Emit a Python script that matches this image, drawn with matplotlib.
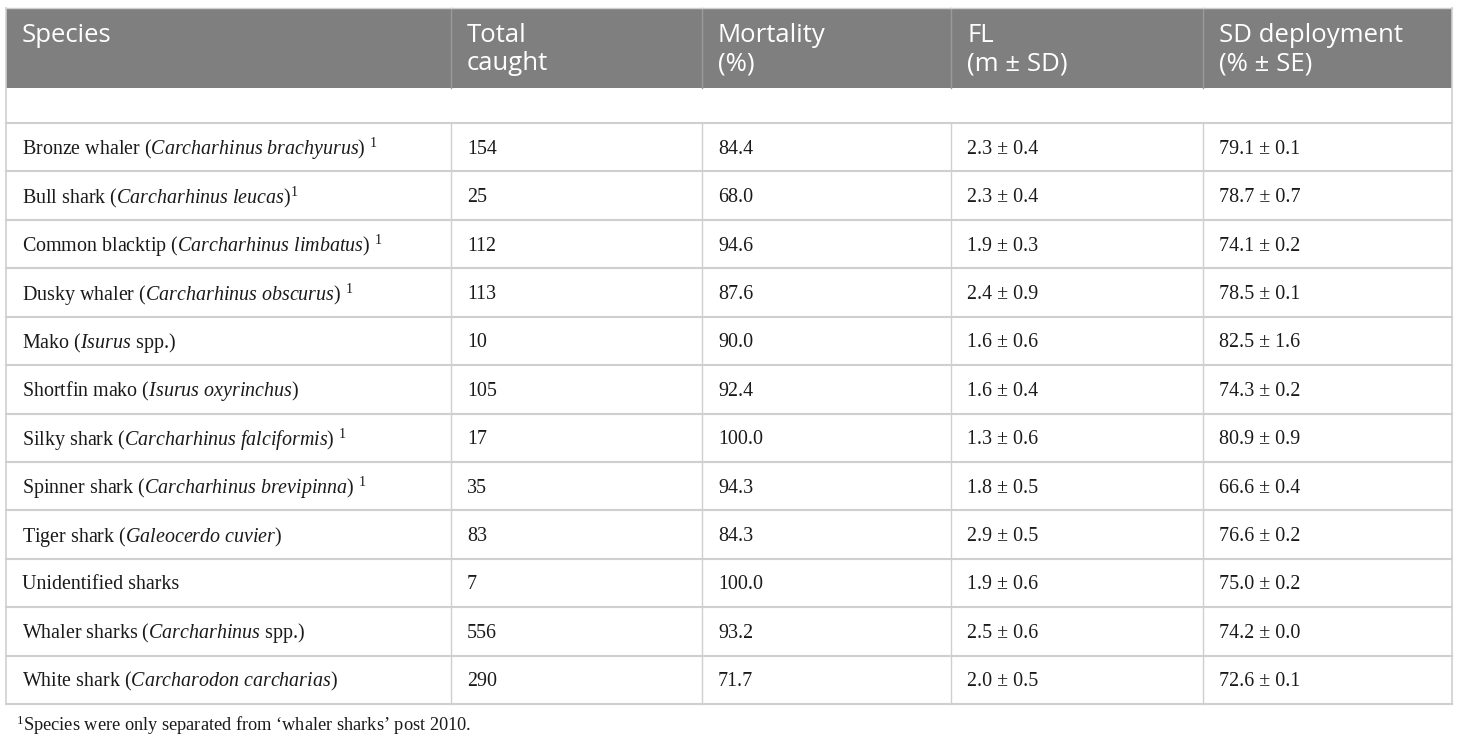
import matplotlib
matplotlib.use("Agg")
import matplotlib.pyplot as plt

plt.rcParams['mathtext.fontset'] = 'custom'
plt.rcParams['mathtext.rm'] = 'Liberation Serif'
plt.rcParams['mathtext.it'] = 'Liberation Serif:italic'

headers = [["Species", ""], ["Total", "caught"], ["Mortality", "(%)"],
           ["FL", "(m ± SD)"], ["SD deployment", "(% ± SE)"]]

common_names = ["Bronze whaler", "Bull shark", "Common blacktip", "Dusky whaler",
                "Mako", "Shortfin mako", "Silky shark", "Spinner shark",
                "Tiger shark", "Unidentified sharks", "Whaler sharks", "White shark"]
sci_names = ["Carcharhinus brachyurus", "Carcharhinus leucas", "Carcharhinus limbatus",
             "Carcharhinus obscurus", "Isurus", "Isurus oxyrinchus",
             "Carcharhinus falciformis", "Carcharhinus brevipinna", "Galeocerdo cuvier",
             "", "Carcharhinus", "Carcharodon carcharias"]
sci_suffix = ["", "", "", "", " spp.", "", "", "", "", "", " spp.", ""]
footnote_mark = [" 1", "1", " 1", " 1", "", "", " 1", " 1", "", "", "", ""]
total_caught = [154, 25, 112, 113, 10, 105, 17, 35, 83, 7, 556, 290]
mortality = [84.4, 68.0, 94.6, 87.6, 90.0, 92.4, 100.0, 94.3, 84.3, 100.0, 93.2, 71.7]
fl_mean = [2.3, 2.3, 1.9, 2.4, 1.6, 1.6, 1.3, 1.8, 2.9, 1.9, 2.5, 2.0]
fl_sd = [0.4, 0.4, 0.3, 0.9, 0.6, 0.4, 0.6, 0.5, 0.5, 0.6, 0.6, 0.5]
sd_dep = [79.1, 78.7, 74.1, 78.5, 82.5, 74.3, 80.9, 66.6, 76.6, 75.0, 74.2, 72.6]
sd_se = [0.1, 0.7, 0.2, 0.1, 1.6, 0.2, 0.9, 0.4, 0.2, 0.2, 0.0, 0.1]
footnote = "Species were only separated from \u2018whaler sharks\u2019 post 2010."

W, H = 1460, 741
fig = plt.figure(figsize=(W / 100, H / 100), dpi=100)
ax = fig.add_axes([0, 0, 1, 1])
ax.set_xlim(0, W)
ax.set_ylim(H, 0)
ax.axis('off')

col_x = [6, 451, 702, 951, 1203, 1452]
head_top, head_bot = 8, 88
empty_bot = 123
row_h = (704 - 123) / 12
grid = '#cfcfcf'
txt = '#1a1a1a'

# header
ax.add_patch(plt.Rectangle((col_x[0], head_top), col_x[-1] - col_x[0], head_bot - head_top,
                           facecolor='#7f7f7f', edgecolor='none', zorder=1))
for x in col_x[1:-1]:
    ax.plot([x, x], [head_top, head_bot], color='#9a9a9a', lw=1, zorder=2)
hfs = 18.5
for i, (l1, l2) in enumerate(headers):
    ax.text(col_x[i] + 16, 36, l1, color='white', fontsize=hfs, family='Open Sans',
            va='center', ha='left', zorder=3)
    if l2:
        ax.text(col_x[i] + 16, 64, l2, color='white', fontsize=hfs, family='Open Sans',
                va='center', ha='left', zorder=3)

# grid
n = len(common_names)
bottom = empty_bot + n * row_h
ax.plot([col_x[0], col_x[-1]], [head_top, head_top], color=grid, lw=1)
ax.plot([col_x[0], col_x[0]], [head_top, bottom], color=grid, lw=1.2)
ax.plot([col_x[-1], col_x[-1]], [head_top, bottom], color=grid, lw=1.2)
ax.plot([col_x[0], col_x[-1]], [empty_bot, empty_bot], color=grid, lw=1.5)
for r in range(n):
    yb = empty_bot + (r + 1) * row_h
    ax.plot([col_x[0], col_x[-1]], [yb, yb], color=grid, lw=1.5)
for x in col_x[1:-1]:
    ax.plot([x, x], [empty_bot, bottom], color=grid, lw=1)

# rows
fs = 14.4
for r in range(n):
    yc = empty_bot + (r + 0.5) * row_h + 2
    name = common_names[r]
    if sci_names[r]:
        sci = sci_names[r].replace(' ', r'\ ')
        s = name + r" ($\mathit{" + sci + r"}$" + sci_suffix[r] + ")"
    else:
        s = name
    mark = footnote_mark[r]
    if mark:
        if mark.startswith(' '):
            s += r" $^{1}$"
        else:
            s += r"$^{1}$"
    ax.text(col_x[0] + 16, yc, s, fontsize=fs, family='Liberation Serif', color=txt,
            va='center', ha='left')
    ax.text(col_x[1] + 16, yc, f"{total_caught[r]}", fontsize=fs, family='Liberation Serif',
            color=txt, va='center', ha='left')
    ax.text(col_x[2] + 16, yc, f"{mortality[r]:.1f}", fontsize=fs, family='Liberation Serif',
            color=txt, va='center', ha='left')
    ax.text(col_x[3] + 16, yc, f"{fl_mean[r]:.1f} ± {fl_sd[r]:.1f}", fontsize=fs,
            family='Liberation Serif', color=txt, va='center', ha='left')
    ax.text(col_x[4] + 16, yc, f"{sd_dep[r]:.1f} ± {sd_se[r]:.1f}", fontsize=fs,
            family='Liberation Serif', color=txt, va='center', ha='left')

ax.text(16, 725, r"$^{1}$" + footnote, fontsize=13.2, family='Liberation Serif', color=txt,
        va='center', ha='left')

fig.savefig('out.png', dpi=100, facecolor='white')
